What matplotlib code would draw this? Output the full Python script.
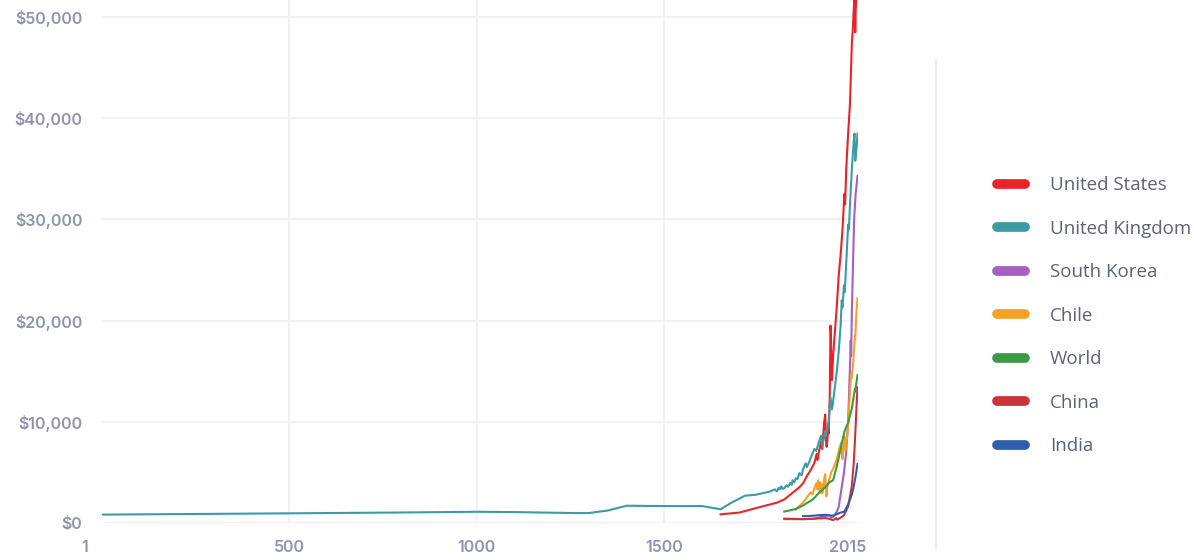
import matplotlib
matplotlib.use("Agg")
import matplotlib.pyplot as plt
import matplotlib.transforms as mtransforms
from matplotlib.ticker import FuncFormatter

# GDP per capita (int.-$)
uk_years = [1, 400, 770, 1000, 1100, 1266, 1300, 1348, 1400, 1450, 1500, 1550, 1600,
            1650, 1680, 1715, 1745, 1780, 1795, 1800, 1805, 1808, 1812, 1815, 1820,
            1826, 1830, 1836, 1840, 1842, 1847, 1850, 1855, 1860, 1866, 1870, 1877,
            1880, 1887, 1890, 1900, 1905, 1913, 1918, 1921, 1929, 1931, 1938, 1943,
            1947, 1950, 1955, 1960, 1965, 1970, 1973, 1975, 1979, 1981, 1986, 1990,
            1992, 1995, 2000, 2005, 2007, 2009, 2011, 2013, 2015]
uk_gdp = [800, 900, 1000, 1080, 1050, 950, 960, 1200, 1680, 1660, 1650, 1640, 1650,
          1330, 2000, 2670, 2770, 3070, 3300, 3100, 3450, 3300, 3600, 3350, 3400,
          3700, 3550, 3950, 3750, 4200, 4000, 4400, 4300, 4900, 4700, 5300, 5880,
          5500, 6060, 6400, 7300, 7100, 8100, 8600, 7500, 9000, 8600, 10000, 12400,
          11200, 12000, 13500, 15000, 17000, 19500, 22000, 21300, 23500, 22800, 26400,
          29500, 29000, 31500, 35000, 37800, 38500, 35800, 36500, 37300, 38500]

us_years = [1650, 1700, 1750, 1800, 1820, 1840, 1850, 1860, 1870, 1880, 1890, 1900,
            1906, 1908, 1913, 1918, 1921, 1926, 1929, 1932, 1933, 1937, 1938, 1941,
            1943, 1944, 1946, 1947, 1950, 1955, 1960, 1965, 1970, 1975, 1980, 1982,
            1985, 1990, 1995, 2000, 2002, 2007, 2008, 2009, 2010, 2012, 2015]
us_gdp = [830, 1000, 1500, 1980, 2300, 2900, 3200, 3500, 3900, 4600, 5200, 5900,
          6800, 6200, 7200, 8000, 7300, 9900, 10700, 7600, 7500, 9300, 8800, 12500,
          19500, 18800, 14300, 14100, 16500, 19000, 21500, 24500, 26500, 29000, 32500,
          31500, 35000, 38500, 41500, 47500, 48500, 52300, 50800, 48500, 50500, 52000,
          54000]

kr_years = [1820, 1850, 1870, 1900, 1911, 1920, 1930, 1940, 1945, 1950, 1955, 1960,
            1965, 1970, 1975, 1979, 1985, 1990, 1995, 1997, 1998, 2000, 2006, 2010, 2015]
kr_gdp = [350, 350, 350, 400, 500, 600, 650, 750, 500, 600, 800, 1100,
          1600, 2800, 4000, 5000, 7000, 10000, 15500, 18000, 16500, 21000, 30000,
          32500, 34300]

cl_years = [1850, 1860, 1870, 1880, 1890, 1895, 1900, 1905, 1908, 1910, 1914, 1916,
            1919, 1920, 1922, 1926, 1929, 1932, 1935, 1940, 1945, 1950, 1955, 1960,
            1965, 1971, 1973, 1975, 1981, 1983, 1985, 1990, 1995, 1998, 1999, 2003,
            2008, 2009, 2012, 2015]
cl_gdp = [1300, 1650, 2000, 2500, 3000, 2800, 3400, 3900, 3300, 4200, 3200, 4000,
          2900, 3800, 3000, 4300, 4800, 2600, 3700, 4300, 5000, 5300, 5800, 6300,
          7100, 7900, 7100, 6300, 8500, 7200, 7700, 9500, 13000, 14600, 14300, 15500,
          18500, 18200, 20800, 22200]

wd_years = [1820, 1850, 1870, 1880, 1890, 1900, 1913, 1929, 1940, 1950, 1960, 1970,
            1980, 1990, 2000, 2008, 2009, 2015]
wd_gdp = [1100, 1350, 1700, 1950, 2150, 2450, 3000, 3500, 4000, 4200, 5600, 7300,
          9000, 9900, 11300, 13200, 13000, 14600]

cn_years = [1820, 1850, 1870, 1890, 1913, 1929, 1938, 1950, 1958, 1961, 1970, 1978,
            1985, 1990, 1995, 2000, 2005, 2008, 2010, 2013, 2015]
cn_gdp = [400, 380, 350, 380, 420, 450, 400, 250, 450, 300, 500, 700,
          1200, 1600, 2600, 3700, 5900, 8000, 9500, 12000, 13400]

in_years = [1870, 1880, 1900, 1913, 1930, 1940, 1950, 1960, 1970, 1980, 1990, 1995,
            2000, 2005, 2010, 2015]
in_gdp = [650, 650, 700, 750, 780, 720, 700, 850, 1000, 1100, 1800, 2300,
          2800, 3600, 4600, 5800]

series = [
    ("United States", us_years, us_gdp, "#ea2329"),
    ("United Kingdom", uk_years, uk_gdp, "#3b9ca4"),
    ("South Korea", kr_years, kr_gdp, "#a45ec4"),
    ("Chile", cl_years, cl_gdp, "#f4a127"),
    ("World", wd_years, wd_gdp, "#3b9a44"),
    ("China", cn_years, cn_gdp, "#c8343a"),
    ("India", in_years, in_gdp, "#2f5eaa"),
]

x_ticks = [1, 500, 1000, 1500, 2015]
y_ticks = [0, 10000, 20000, 30000, 40000, 50000]

tick_color = "#8e94ab"
grid_color = "#f0f0f4"

fig = plt.figure(figsize=(11.94, 5.6), dpi=100)
ax = fig.add_axes([101.9 / 1194, 37 / 560, 755.6 / 1194, 523 / 560])

for name, yrs, vals, col in series:
    ax.plot(yrs, vals, color=col, lw=1.5, label=name, solid_joinstyle="round")

ax.set_xlim(1, 2015)
ax.set_ylim(-30, 51712)

for v in y_ticks:
    ax.axhline(v, color=grid_color, lw=1.2, zorder=0)
for v in x_ticks[1:-1]:
    ax.axvline(v, color=grid_color, lw=1.2, zorder=0)

ax.set_xticks(x_ticks)
ax.set_xticklabels([str(t) for t in x_ticks])
ax.set_yticks(y_ticks)
ax.yaxis.set_major_formatter(FuncFormatter(lambda v, p: f"${v:,.0f}"))
ax.tick_params(length=0, colors=tick_color, labelsize=11.5)
ax.tick_params(axis="x", pad=12)
ax.tick_params(axis="y", pad=14)
for lab in ax.get_xticklabels() + ax.get_yticklabels():
    lab.set_fontfamily("Inter")
    lab.set_fontweight("semibold")

# nudge the edge labels like the original
xl = ax.get_xticklabels()
xl[0].set_transform(xl[0].get_transform() + mtransforms.ScaledTranslation(-0.17, 0, fig.dpi_scale_trans))
xl[-1].set_transform(xl[-1].get_transform() + mtransforms.ScaledTranslation(-0.10, 0, fig.dpi_scale_trans))

for s in ax.spines.values():
    s.set_visible(False)

# legend separator line
fig.add_artist(plt.Line2D([936 / 1194, 936 / 1194], [1 - 60 / 560, 1 - 549 / 560],
                          color="#ececf2", lw=1.5))

leg = fig.legend(loc="upper left", bbox_to_anchor=(988 / 1194, 1 - 167 / 560),
                 frameon=False, handlelength=1.46, handletextpad=1.35,
                 labelspacing=1.36, borderpad=0,
                 prop={"family": "Open Sans", "size": 13.5})
for h in leg.get_lines():
    h.set_linewidth(7)
    h.set_solid_capstyle("round")
for t in leg.get_texts():
    t.set_color("#5c6379")

fig.savefig("out.png", dpi=100)
